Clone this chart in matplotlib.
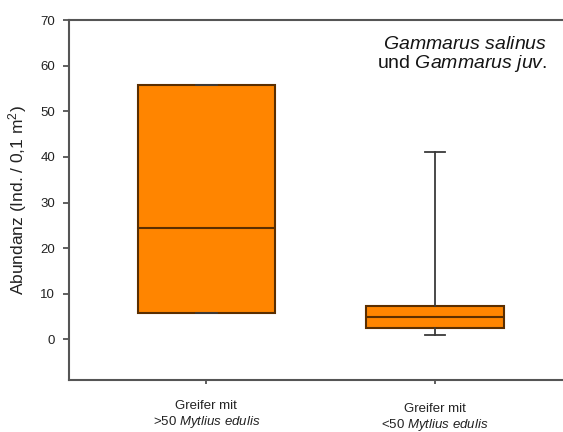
import matplotlib
matplotlib.use("Agg")
import matplotlib.pyplot as plt
from matplotlib import transforms

plt.rcParams['font.family'] = ['Liberation Sans', 'DejaVu Sans']
plt.rcParams['mathtext.fontset'] = 'custom'
plt.rcParams['mathtext.rm'] = 'Liberation Sans'
plt.rcParams['mathtext.it'] = 'Liberation Sans:italic'

# box statistics per sample group
groups = ["Greifer mit\n>50 $\\mathit{Mytlius\\ edulis}$",
          "Greifer mit\n<50 $\\mathit{Mytlius\\ edulis}$"]
q1 = [5.85, 2.4]
median = [24.4, 5.0]
q3 = [55.7, 7.3]
whisker_low = [5.85, 0.9]
whisker_high = [55.7, 41.0]
y_ticks = [0, 10, 20, 30, 40, 50, 60, 70]

stats = []
for i in range(len(groups)):
    stats.append({"q1": q1[i], "med": median[i], "q3": q3[i],
                  "whislo": whisker_low[i], "whishi": whisker_high[i],
                  "fliers": []})

fig = plt.figure(figsize=(5.63, 4.32), dpi=100)
ax = fig.add_axes([0.1226, 0.1204, 0.8774, 0.8333])

edge = "#5a2e00"
line_col = "#3a3a3a"
ax.bxp(stats, positions=[1, 2], widths=0.6, patch_artist=True,
       boxprops=dict(facecolor="#ff8500", edgecolor=edge, linewidth=1.5),
       medianprops=dict(color=edge, linewidth=1.5),
       whiskerprops=dict(color=line_col, linewidth=1.3),
       capprops=dict(color=line_col, linewidth=1.3),
       capwidths=0.09, showfliers=False)

ax.set_xlim(0.4, 2.56)
ax.set_ylim(-8.9, 70)
ax.set_yticks(y_ticks)
ax.tick_params(axis='y', labelsize=9.5, length=4, width=1.2, color="#444444",
               labelcolor="#222222", pad=6)
ax.tick_params(axis='x', length=3, width=1.2, color="#444444")
ax.set_xticks([1, 2])
ax.set_xticklabels(["", ""])

# category labels, drawn as text so each can sit at its own height
trans = transforms.blended_transform_factory(ax.transData, fig.transFigure)
ax.text(1, 1 - 400 / 432, groups[0], transform=trans, ha='center', va='top',
        fontsize=9.5, color="#222222", linespacing=1.2)
ax.text(2, 1 - 403 / 432, groups[1], transform=trans, ha='center', va='top',
        fontsize=9.5, color="#222222", linespacing=1.2)

ax.set_ylabel("Abundanz (Ind. / 0,1 m$^2$)", fontsize=12.5, color="#222222")
ax.yaxis.set_label_coords(29 / 563, 1 - 200 / 432, transform=fig.transFigure)

for side in ["left", "top", "bottom"]:
    ax.spines[side].set_color("#555555")
    ax.spines[side].set_linewidth(1.5)
ax.spines["right"].set_visible(False)

fig.text(547 / 563, 1 - 55 / 432,
         "$\\mathit{Gammarus\\ salinus}$\nund $\\mathit{Gammarus\\ juv.}$",
         ha='right', va='center', fontsize=14, color="#151515",
         multialignment='right', linespacing=1.05)

fig.savefig("out.png", dpi=100)
